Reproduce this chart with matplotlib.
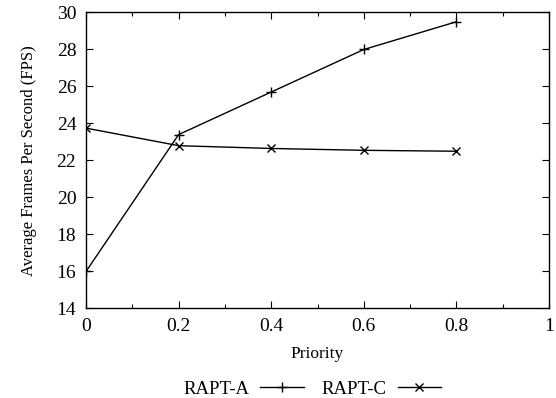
import matplotlib.pyplot as plt
from matplotlib.ticker import MultipleLocator

# donnees
priority = [0, 0.2, 0.4, 0.6, 0.8]
rapt_a = [16.0, 23.4, 25.7, 28.0, 29.5]
rapt_c = [23.75, 22.8, 22.65, 22.55, 22.5]

plt.rcParams['font.family'] = ['Liberation Serif', 'DejaVu Serif']
plt.rcParams['font.size'] = 12

fig = plt.figure(figsize=(5.56, 3.98), dpi=100)
ax = fig.add_axes([0.1547, 0.2249, 0.8327, 0.7437])

ax.plot(priority, rapt_a, color='black', linewidth=1.0, marker='+',
        markersize=7, markeredgewidth=1.0, label='RAPT-A')
ax.plot(priority, rapt_c, color='black', linewidth=1.0, marker='x',
        markersize=6, markeredgewidth=1.0, label='RAPT-C')

ax.set_xlim(0, 1)
ax.set_ylim(14, 30)
ax.xaxis.set_major_locator(MultipleLocator(0.2))
ax.xaxis.set_minor_locator(MultipleLocator(0.1))
ax.yaxis.set_major_locator(MultipleLocator(2))
ax.set_xticks([0, 0.2, 0.4, 0.6, 0.8, 1])
ax.set_xticklabels(['0', '0.2', '0.4', '0.6', '0.8', '1'])

ax.tick_params(which='both', direction='in', top=True, right=True, width=0.8,
               labelsize=14)
ax.tick_params(which='major', length=5, pad=7)
ax.tick_params(which='minor', length=3)
for s in ax.spines.values():
    s.set_linewidth(1.0)

ax.set_xlabel('Priority', labelpad=8, fontsize=12.5)
ax.set_ylabel('Average Frames Per Second (FPS)', labelpad=14, fontsize=12)

fig.legend(loc='center', bbox_to_anchor=(0.561, 0.022), ncol=2, frameon=False,
           markerfirst=False, handlelength=2.3, columnspacing=0.95,
           handletextpad=0.6, fontsize=13.5)

fig.savefig('out.png', dpi=100)
